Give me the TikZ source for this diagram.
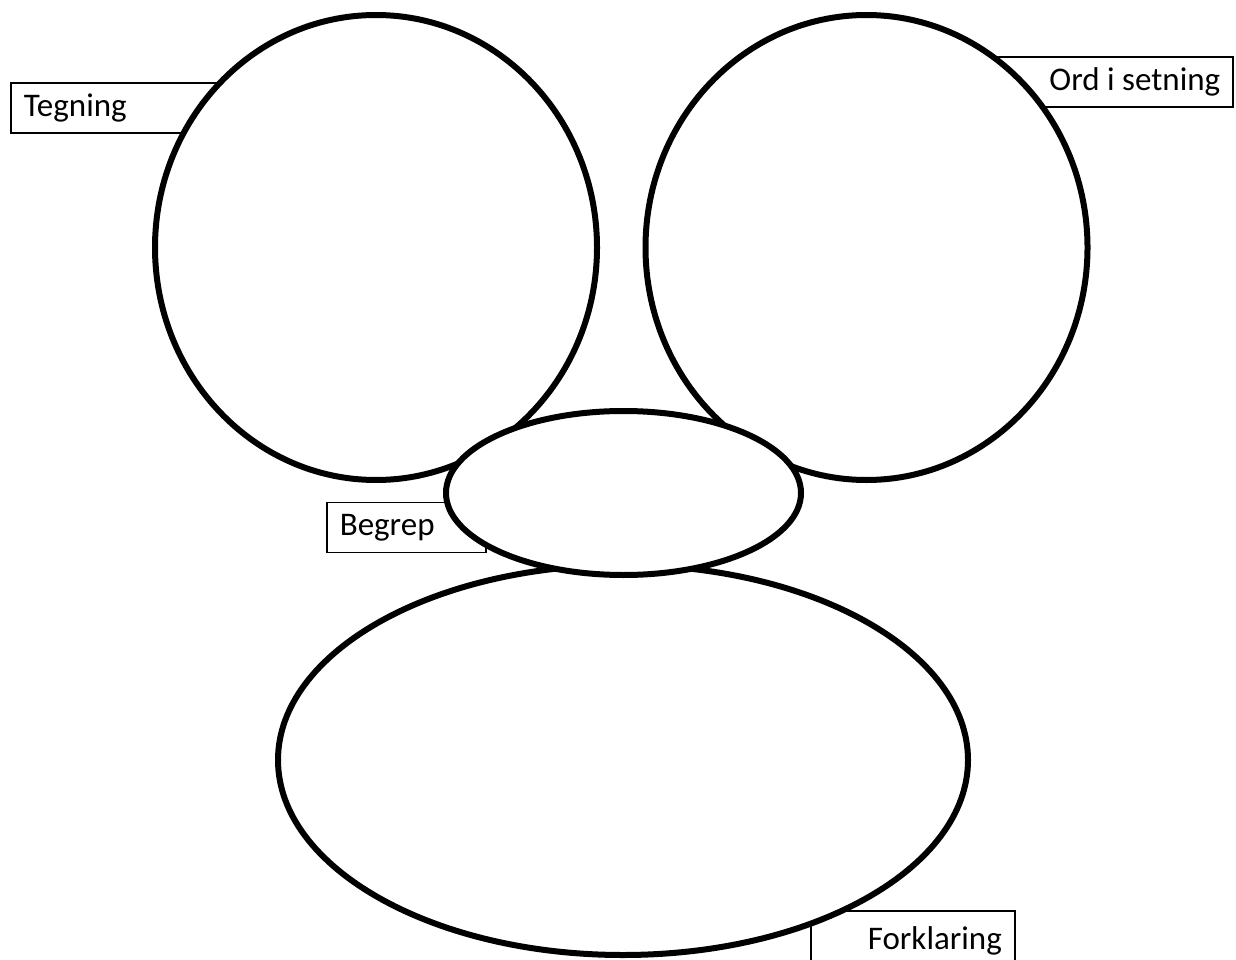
\documentclass[tikz,border=0pt]{standalone}
\usepackage{fontspec}
\setmainfont{Carlito}
\usepackage{tikz}
\usetikzlibrary{shapes.geometric}

\begin{document}
\begin{tikzpicture}[x=1pt, y=-1pt,
    labelbox/.style={draw, line width=1.6pt, fill=white, rectangle,
      minimum height=50pt, inner xsep=13pt, font=\fontsize{33}{33}\selectfont},
    blob/.style={draw, line width=6pt, fill=white, ellipse, inner sep=0pt}]
  \useasboundingbox (0,0) rectangle (1236,960);
  \clip (0,0) rectangle (1236,960);
  % labels sit behind the shapes
  \node[labelbox, anchor=west, text width=182pt, align=flush left] (tegning) at (10,108) {Tegning};
  \node[labelbox, anchor=east, text width=218pt, align=flush right] (ord) at (1234,82) {Ord i setning};
  \node[labelbox, anchor=west, text width=133pt, align=flush left] (begrep) at (326,527.5) {Begrep};
  \node[labelbox, anchor=north west, text width=178pt, align=flush right, minimum height=60pt] (forklaring) at (810,910) {Forklaring};
  % shapes
  \node[blob, minimum width=442pt, minimum height=465pt] (left) at (376,247.5) {};
  \node[blob, minimum width=442pt, minimum height=465pt] (right) at (866.5,247.5) {};
  \node[blob, minimum width=690pt, minimum height=390pt] (big) at (623,760) {};
  \node[blob, minimum width=355pt, minimum height=164pt] (small) at (623.5,493) {};
\end{tikzpicture}
\end{document}
